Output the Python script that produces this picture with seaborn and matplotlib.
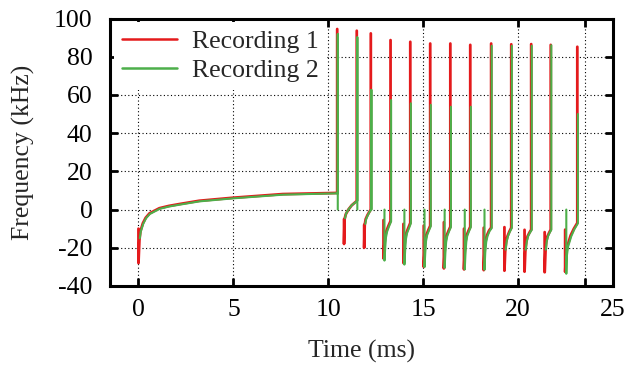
import numpy as np
import pandas as pd
import matplotlib
matplotlib.use("Agg")
import matplotlib.pyplot as plt
from matplotlib.lines import Line2D
import seaborn as sns

# ---- Recording 1 -------------------------------------------------------
# event 0 is the onset transient, events 1..12 follow each dip
dip_t1 = [0.0, 10.83, 11.89, 12.91, 13.96, 15.03, 16.09, 17.15, 18.19, 19.28, 20.34, 21.40, 22.48]
dip_hi1 = [-10, -5, -8, -5.5, -7.5, -8.4, -6.6, -10, -9.5, -9.2, -10.6, -11.8, -10.5]
dip_lo1 = [-28, -18, -20, -25.6, -28, -30, -30.8, -31.3, -31.7, -32, -32.5, -32.8, -32.6]
rise_t1 = [
    [0.05, 0.1, 0.23, 0.38, 0.58, 1.1, 1.6, 2.17, 3.2, 5.0, 7.6, 10.47],
    [10.86, 10.92, 11.06, 11.23, 11.50],
    [11.92, 11.97, 12.06, 12.16, 12.24],
    [12.95, 13.00, 13.07, 13.17, 13.28],
    [14.00, 14.05, 14.12, 14.22, 14.32],
    [15.07, 15.11, 15.18, 15.28, 15.37],
    [16.13, 16.17, 16.24, 16.34, 16.43],
    [17.19, 17.23, 17.29, 17.39, 17.48],
    [18.23, 18.28, 18.36, 18.47, 18.58],
    [19.32, 19.37, 19.44, 19.54, 19.64],
    [20.38, 20.43, 20.50, 20.60, 20.69],
    [21.44, 21.48, 21.55, 21.64, 21.72],
    [22.52, 22.60, 22.77, 22.94, 23.12],
]
rise_v1 = [
    [-16, -11.5, -7.2, -4.3, -2.0, 0.7, 1.9, 2.9, 4.6, 6.2, 8.1, 8.7],
    [-5, -2.5, 0, 2.2, 4.5],
    [-8, -5, -3, -1.2, 0],
    [-19, -14, -11, -8.5, -6],
    [-21, -15, -12, -9.5, -7],
    [-22, -16, -13, -10.5, -8.5],
    [-22, -16.5, -13.5, -11, -9],
    [-22, -16.5, -13.5, -11, -9],
    [-22, -16.5, -13.5, -11, -9.5],
    [-22, -17, -14, -11.5, -9.5],
    [-22, -17, -14, -12, -10.5],
    [-22, -17, -14, -12, -10.5],
    [-24, -19, -13.5, -10, -7],
]
peak1 = [94.5, 93.6, 92.2, 88.7, 87.8, 86.9, 86.9, 86.2, 86.9, 86.5, 86.6, 86.2, 85.2]
drop1 = [np.nan] * 13

# ---- Recording 2 -------------------------------------------------------
nan = np.nan
dip_t2 = [nan, nan, nan, 12.96, 14.01, 15.07, 16.13, 17.19, 18.23, nan, nan, nan, 22.54]
dip_hi2 = [nan, nan, nan, 0, 0, 0, 0, 0, 0, nan, nan, nan, 0]
dip_lo2 = [nan, nan, nan, -26.7, -28.8, -30.1, -30.5, -31.3, -31.5, nan, nan, nan, -33.6]
rise_t2 = [
    [0.07, 0.12, 0.25, 0.4, 0.6, 1.12, 1.62, 2.19, 3.22, 5.02, 7.62, 10.50],
    [10.88, 10.94, 11.08, 11.25, 11.53],
    [11.95, 12.00, 12.09, 12.19, 12.27],
    [13.00, 13.04, 13.10, 13.20, 13.31],
    [14.05, 14.09, 14.15, 14.25, 14.35],
    [15.11, 15.15, 15.21, 15.31, 15.40],
    [16.17, 16.21, 16.27, 16.37, 16.46],
    [17.23, 17.27, 17.32, 17.42, 17.51],
    [18.27, 18.32, 18.39, 18.50, 18.61],
    [19.34, 19.40, 19.47, 19.57, 19.67],
    [20.40, 20.46, 20.53, 20.63, 20.72],
    [21.46, 21.51, 21.58, 21.67, 21.75],
    [22.56, 22.63, 22.80, 22.97, 23.15],
]
rise_v2 = [
    [-15, -11.5, -7.5, -4.5, -2.3, 0.4, 1.6, 2.6, 4.3, 5.9, 7.8, 8.5],
    [-4.5, -2, 0.3, 2.4, 4.6],
    [-7.5, -4.8, -2.8, -1, 0.2],
    [-20, -14.5, -11.5, -8.8, -6.2],
    [-21.5, -15.5, -12.3, -9.8, -7.2],
    [-22.5, -16.5, -13.3, -10.8, -8.7],
    [-22.5, -17, -13.8, -11.2, -9.2],
    [-22.5, -17, -13.8, -11.2, -9.2],
    [-22.5, -17, -13.8, -11.2, -9.7],
    [-21, -16.5, -13.8, -11.5, -9.6],
    [-21, -16.5, -13.8, -12, -10.6],
    [-21, -16.5, -13.8, -12, -10.6],
    [-25, -19.5, -14, -10.2, -7.2],
]
peak2 = [91.8, 90.1, 62.6, 57.3, 55.6, 54.8, 53.8, 53.8, 85.7, 85.7, 85.7, 86.0, 50.0]
drop2 = [0, 0, 0] + [nan] * 10

labels = ["Recording 1", "Recording 2"]
colors = {"Recording 1": "#e41a1c", "Recording 2": "#4daf4a"}


def build(name, dip_t, dip_hi, dip_lo, rise_t, rise_v, peak, drop):
    rows = []
    for k in range(len(rise_t)):
        pts = []
        if not np.isnan(dip_hi[k]):
            pts += [(dip_t[k], dip_hi[k]), (dip_t[k], dip_lo[k])]
        pts += list(zip(rise_t[k], rise_v[k]))
        ts = rise_t[k][-1]
        pts.append((ts, peak[k]))
        if not np.isnan(drop[k]):
            pts.append((ts, drop[k]))
        for t, v in pts:
            rows.append({"rec": name, "seg": k, "t": t, "v": v})
    return pd.DataFrame(rows)


df1 = build(labels[0], dip_t1, dip_hi1, dip_lo1, rise_t1, rise_v1, peak1, drop1)
df2 = build(labels[1], dip_t2, dip_hi2, dip_lo2, rise_t2, rise_v2, peak2, drop2)

sns.set_style("ticks")
plt.rcParams["font.family"] = ["Liberation Serif", "DejaVu Serif"]
plt.rcParams["font.size"] = 18.5
plt.rcParams["axes.unicode_minus"] = False

fig = plt.figure(figsize=(6.3, 3.68), dpi=100)
ax = fig.add_axes([110 / 630, 1 - 286 / 368, (613 - 110) / 630, (286 - 18.5) / 368])

sns.lineplot(data=df1, x="t", y="v", units="seg", estimator=None, sort=False,
             color=colors[labels[0]], lw=2.0, ax=ax, legend=False, zorder=3)
sns.lineplot(data=df2, x="t", y="v", units="seg", estimator=None, sort=False,
             color=colors[labels[1]], lw=1.5, ax=ax, legend=False, zorder=4)

ax.set_xlim(-1.5, 25)
ax.set_ylim(-40, 100)
ax.set_xticks([0, 5, 10, 15, 20, 23.55, 25])
ax.set_xticklabels(["0", "5", "10", "15", "20", "", "25"])
ax.set_yticks(range(-40, 101, 20))
ax.set_xlabel("Time (ms)", fontsize=18.5, labelpad=14)
ax.set_ylabel("Frequency (kHz)", fontsize=18.5, labelpad=14)

ax.grid(True, color="black", linestyle=(0, (1, 2.2)), linewidth=0.8)
ax.set_axisbelow(True)
for s in ax.spines.values():
    s.set_linewidth(2.2)
    s.set_color("black")
    s.set_visible(True)
ax.tick_params(direction="in", length=6, width=2, top=True, right=True,
               labelsize=18.5, colors="black", pad=12.5)
ax.tick_params(axis="x", pad=9)

handles = [Line2D([], [], color=colors[n], lw=1.8) for n in labels]
leg = ax.legend(handles, labels, loc="upper left", bbox_to_anchor=(0, 1),
                borderaxespad=0.15, borderpad=0.3, frameon=True, fancybox=False,
                facecolor="white", edgecolor="none", framealpha=1,
                handlelength=2.15, handletextpad=0.6, labelspacing=0.25,
                fontsize=18.5)
leg.set_zorder(5)

fig.savefig("out.png", dpi=100)
